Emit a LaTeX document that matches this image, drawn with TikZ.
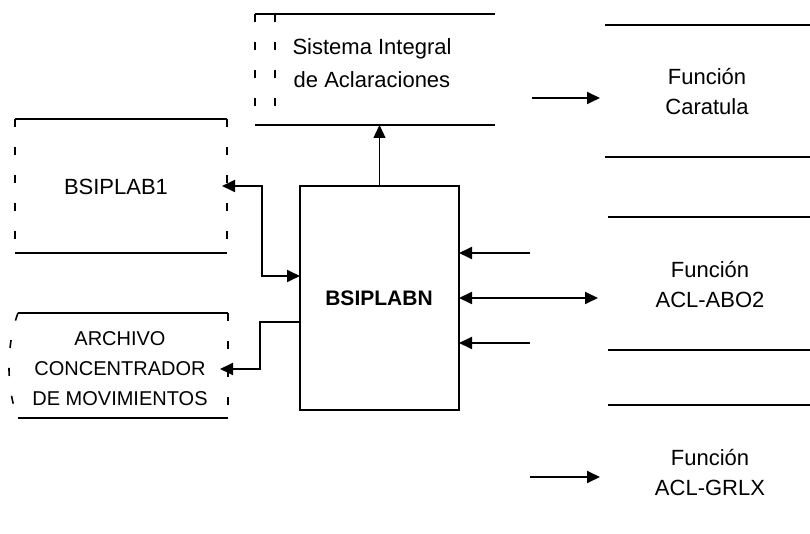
\documentclass[tikz,border=0pt]{standalone}
\usepackage{fontspec}
\setmainfont{Liberation Sans}
\usetikzlibrary{arrows.meta,calc}
\begin{document}
\begin{tikzpicture}[x=0.5pt,y=-0.5pt,
  frame/.style={inner sep=0pt, outer sep=0pt},
  edge/.style={line width=1.1pt},
  faint/.style={line width=0.8pt, dash pattern=on 4pt off 10pt},
  lbl/.style={font=\fontsize{11}{16.5}\selectfont, align=center, inner sep=0pt},
  arr/.style={line width=0.9pt, -{Triangle[length=6.5pt,width=6pt]}},
  biarr/.style={line width=0.9pt, {Triangle[length=6.5pt,width=6pt]}-{Triangle[length=6.5pt,width=6pt]}}]
\useasboundingbox[fill=white] (0,0) rectangle (810,534);

% frames (shapes only) and their texts
\node[frame, minimum width=120pt, minimum height=55.5pt] (sia) at (375,69.5) {};
\node[lbl] (siat) at (372,63) {Sistema Integral\\de Aclaraciones};

\node[frame, minimum width=106pt, minimum height=67pt] (b1) at (121,186) {};
\node[lbl] (b1t) at (116,187) {BSIPLAB1};

\node[frame, draw, line width=1.1pt, minimum width=79.5pt, minimum height=112pt] (bn) at (379.5,298) {};
\node[lbl, font=\fontsize{10.5}{13}\selectfont\bfseries] (bnt) at (379,298) {BSIPLABN};

\node[frame, minimum width=105pt, minimum height=52.5pt] (arch) at (123,365.5) {};
\node[lbl, font=\fontsize{10}{15}\selectfont] (archt) at (120,369) {ARCHIVO\\CONCENTRADOR\\DE MOVIMIENTOS};

\node[frame, minimum width=102.5pt, minimum height=66pt] (car) at (707.5,91) {};
\node[lbl, font=\fontsize{11}{15}\selectfont] (cart) at (707,92) {Función\\Caratula};

\node[frame, minimum width=101pt, minimum height=66.5pt] (abo) at (709,283.5) {};
\node[lbl, font=\fontsize{11}{15}\selectfont] (abot) at (710,285) {Función\\ACL-ABO2};

\node[frame, minimum width=101pt, minimum height=66.5pt] (grlx) at (709,471.5) {};
\node[lbl, font=\fontsize{11}{15}\selectfont] (grlxt) at (710,473) {Función\\ACL-GRLX};

% frame outlines
\draw[edge] (sia.north west) -- (sia.north east);
\draw[edge] (sia.south west) -- (sia.south east);
\draw[faint] (sia.north west) -- (sia.south west);
\draw[faint] ($(sia.north west)+(20,0)$) -- ($(sia.south west)+(20,0)$);

\draw[edge] (b1.north west) -- (b1.north east);
\draw[edge] (b1.south west) -- (b1.south east);
\draw[faint] (b1.north west) -- (b1.south west);
\draw[faint] (b1.north east) -- (b1.south east);

\draw[edge] (arch.north west) -- (arch.north east);
\draw[edge] (arch.south west) -- (arch.south east);
\draw[faint] (arch.north west) .. controls ($(arch.north west)+(-12,32)$) and ($(arch.south west)+(-12,-28)$) .. (arch.south west);
\draw[faint] (arch.north east) -- (arch.south east);

\draw[edge] (car.north west) -- (car.north east);
\draw[edge] (car.south west) -- (car.south east);
\draw[edge] (abo.north west) -- (abo.north east);
\draw[edge] (abo.south west) -- (abo.south east);
\draw[edge] (grlx.north west) -- (grlx.north east);

% connectors
\coordinate (j1) at (262,276);
\draw[biarr, shorten <=-2.5pt] (b1.east) -| (j1) -- (j1 -| bn.west);

\coordinate (j2) at (260,322);
\coordinate (j3) at (260,369);
\draw[arr, shorten >=-4pt] (j2 -| bn.west) -- (j2) -- (j3) -- (j3 -| arch.east);

\draw[arr, line width=0.6pt] (bn.north) -- (bn.north |- sia.south);

\coordinate (r1) at (530,253);
\draw[arr] (r1) -- (r1 -| bn.east);
\draw[biarr, shorten >=5pt] (bn.east) -- (bn.east -| abo.west);
\coordinate (r3) at (530,343);
\draw[arr] (r3) -- (r3 -| bn.east);

\coordinate (c1) at (532,98);
\draw[arr, shorten >=2.5pt] (c1) -- (c1 -| car.west);
\coordinate (g1) at (530,477);
\draw[arr, shorten >=4pt] (g1) -- (g1 -| grlx.west);
\end{tikzpicture}
\end{document}
